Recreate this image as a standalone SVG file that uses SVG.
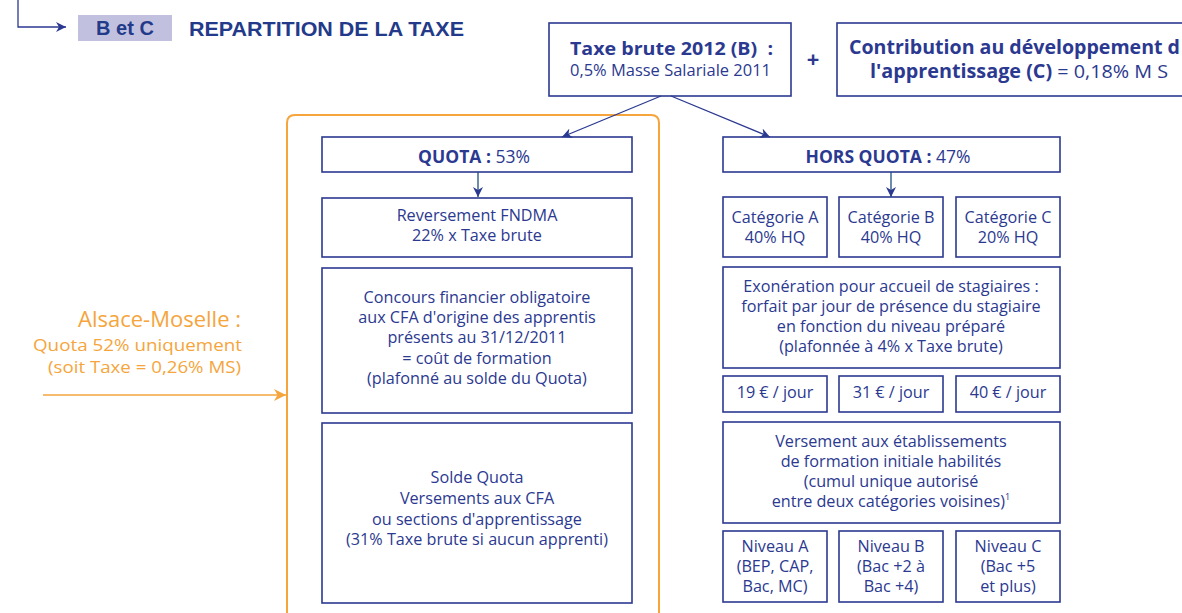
<svg xmlns="http://www.w3.org/2000/svg" width="1182" height="613" viewBox="0 0 1182 613">
<defs>
<marker id="ah" viewBox="0 0 10 10" refX="10" refY="5" markerWidth="10" markerHeight="10" markerUnits="userSpaceOnUse" orient="auto">
<path d="M0,0 L10,5 L0,10 L3,5 z" fill="#2b3990"/>
</marker>
<marker id="aho" viewBox="0 0 10 10" refX="10" refY="5" markerWidth="12" markerHeight="12" markerUnits="userSpaceOnUse" orient="auto">
<path d="M0,0 L10,5 L0,10 L3,5 z" fill="#f5a53c"/>
</marker>
<style>
.box{fill:#fff;stroke:#2b3990;stroke-width:1.6}
.t{font-family:"Open Sans","Noto Sans",sans-serif;font-size:16.2px;fill:#2b3990;text-anchor:middle}
.b{font-weight:bold}
.h{font-family:"Liberation Sans",Arial,sans-serif;font-weight:bold;fill:#233a8a}
.o{font-family:"Open Sans","Noto Sans",sans-serif;fill:#f5a53c;text-anchor:end}
.ln{stroke:#2b3990;stroke-width:1.3;fill:none}
</style>
</defs>
<rect width="1182" height="613" fill="#fff"/>

<g id="header">
<path d="M18,0 V27 H66" class="ln" stroke-width="1.6" marker-end="url(#ah)"/>
<rect x="78" y="15" width="94" height="26" fill="#c1c1df"/>
<text x="125" y="35" class="h" style="font-size:20px" text-anchor="middle">B et C</text>
<text x="189" y="36" class="h" style="font-size:20.5px" textLength="275" lengthAdjust="spacingAndGlyphs">REPARTITION DE LA TAXE</text>
</g>

<g id="orange-frame">
<path d="M287,620 V123 Q287,115 295,115 H651 Q659,115 659,123 V620" fill="none" stroke="#f5a53c" stroke-width="2"/>
</g>

<g id="alsace">
<text x="241" y="327" class="o" style="font-size:21px" textLength="163" lengthAdjust="spacingAndGlyphs">Alsace-Moselle :</text>
<text x="242" y="351" class="o" style="font-size:17px" textLength="209" lengthAdjust="spacingAndGlyphs">Quota 52% uniquement</text>
<text x="241" y="373" class="o" style="font-size:17px" textLength="193" lengthAdjust="spacingAndGlyphs">(soit Taxe = 0,26% MS)</text>
</g>

<g id="taxe">
<rect x="549" y="23" width="242" height="73" class="box"/>
<text x="570" y="55" class="t b" style="font-size:18.5px;text-anchor:start" xml:space="preserve" textLength="203" lengthAdjust="spacingAndGlyphs">Taxe brute 2012 (B)  :</text>
<text x="570" y="76" class="t" style="text-anchor:start" textLength="201" lengthAdjust="spacingAndGlyphs">0,5% Masse Salariale 2011</text>
</g>

<g id="plus">
<text x="813" y="67" class="t b" style="font-size:22px">+</text>
</g>

<g id="contribution">
<rect x="837" y="23" width="360" height="73" class="box"/>
<text x="849" y="54" class="t b" style="font-size:19px;text-anchor:start" textLength="331" lengthAdjust="spacingAndGlyphs">Contribution au développement d</text>
<text x="870" y="78" class="t" style="font-size:19px;text-anchor:start" textLength="298" lengthAdjust="spacingAndGlyphs"><tspan class="b">l'apprentissage (C)</tspan> = 0,18% M S</text>
</g>

<g id="quota">
<rect x="322" y="137" width="310" height="35" class="box"/>
<text x="474" y="163" class="t" style="font-size:17.5px"><tspan class="b">QUOTA :</tspan> 53%</text>
</g>

<g id="reversement">
<rect x="322" y="198" width="310" height="59" class="box"/>
<text x="477" y="221" class="t">Reversement FNDMA</text>
<text x="477" y="241" class="t">22% x Taxe brute</text>
</g>

<g id="concours">
<rect x="322" y="268" width="310" height="145" class="box"/>
<text x="477" y="303" class="t">Concours financier obligatoire</text>
<text x="477" y="323" class="t">aux CFA d'origine des apprentis</text>
<text x="477" y="343" class="t">présents au 31/12/2011</text>
<text x="477" y="364" class="t">= coût de formation</text>
<text x="477" y="384" class="t">(plafonné au solde du Quota)</text>
</g>

<g id="solde">
<rect x="322" y="423" width="310" height="180" class="box"/>
<text x="477" y="483" class="t">Solde Quota</text>
<text x="477" y="504" class="t">Versements aux CFA</text>
<text x="477" y="525" class="t">ou sections d'apprentissage</text>
<text x="477" y="545" class="t">(31% Taxe brute si aucun apprenti)</text>
</g>

<g id="hors-quota">
<rect x="723" y="137" width="337" height="35" class="box"/>
<text x="888" y="163" class="t" style="font-size:17.5px"><tspan class="b">HORS QUOTA :</tspan> 47%</text>
</g>

<g id="cat-a">
<rect x="723" y="197" width="104" height="60" class="box"/>
<text x="775" y="223" class="t">Catégorie A</text>
<text x="775" y="243" class="t">40% HQ</text>
</g>
<g id="cat-b">
<rect x="839" y="197" width="104" height="60" class="box"/>
<text x="891" y="223" class="t">Catégorie B</text>
<text x="891" y="243" class="t">40% HQ</text>
</g>
<g id="cat-c">
<rect x="956" y="197" width="104" height="60" class="box"/>
<text x="1008" y="223" class="t">Catégorie C</text>
<text x="1008" y="243" class="t">20% HQ</text>
</g>

<g id="exoneration">
<rect x="723" y="267" width="337" height="101" class="box"/>
<text x="891" y="292" class="t">Exonération pour accueil de stagiaires :</text>
<text x="891" y="312" class="t">forfait par jour de présence du stagiaire</text>
<text x="891" y="332" class="t">en fonction du niveau préparé</text>
<text x="891" y="352" class="t">(plafonnée à 4% x Taxe brute)</text>
</g>

<g id="jour-19">
<rect x="723" y="376" width="104" height="36" class="box"/>
<text x="775" y="398" class="t">19 € / jour</text>
</g>
<g id="jour-31">
<rect x="839" y="376" width="104" height="36" class="box"/>
<text x="891" y="398" class="t">31 € / jour</text>
</g>
<g id="jour-40">
<rect x="956" y="376" width="104" height="36" class="box"/>
<text x="1008" y="398" class="t">40 € / jour</text>
</g>

<g id="versement">
<rect x="723" y="422" width="337" height="101" class="box"/>
<text x="891" y="447" class="t">Versement aux établissements</text>
<text x="891" y="467" class="t">de formation initiale habilités</text>
<text x="891" y="487" class="t">(cumul unique autorisé</text>
<text x="891" y="507" class="t">entre deux catégories voisines)<tspan style="font-size:9px" dy="-7">1</tspan></text>
</g>

<g id="niveau-a">
<rect x="723" y="531" width="104" height="71" class="box"/>
<text x="775" y="552" class="t">Niveau A</text>
<text x="775" y="572" class="t">(BEP, CAP,</text>
<text x="775" y="592" class="t">Bac, MC)</text>
</g>
<g id="niveau-b">
<rect x="839" y="531" width="104" height="71" class="box"/>
<text x="891" y="552" class="t">Niveau B</text>
<text x="891" y="572" class="t">(Bac +2 à</text>
<text x="891" y="592" class="t">Bac +4)</text>
</g>
<g id="niveau-c">
<rect x="956" y="531" width="104" height="71" class="box"/>
<text x="1008" y="552" class="t">Niveau C</text>
<text x="1008" y="572" class="t">(Bac +5</text>
<text x="1008" y="592" class="t">et plus)</text>
</g>

<g id="connectors">
<line x1="661" y1="96" x2="562" y2="137" class="ln" marker-end="url(#ah)"/>
<line x1="671" y1="96" x2="770" y2="137" class="ln" marker-end="url(#ah)"/>
<line x1="478" y1="172" x2="478" y2="197" class="ln" style="stroke:#1f4f7f" marker-end="url(#ah)"/>
<line x1="891" y1="172" x2="891" y2="197" class="ln" style="stroke:#1f4f7f" marker-end="url(#ah)"/>
<line x1="43" y1="395" x2="286" y2="395" stroke="#f5a53c" stroke-width="1.6" marker-end="url(#aho)"/>
</g>
</svg>
